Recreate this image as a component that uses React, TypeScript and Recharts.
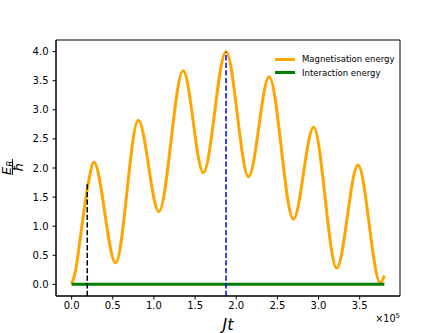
import { ComposedChart, Line, XAxis, YAxis, ReferenceLine, ReferenceArea } from "recharts"

// Jt in units of 10^5
const jt = [0, 0.05, 0.11, 0.2, 0.27, 0.535, 0.81, 1.06, 1.355, 1.6, 1.876, 2.15, 2.4, 2.695, 2.94, 3.22, 3.48, 3.75, 3.8]
const magnetisation = [0, 0.25, 0.85, 1.72, 2.1, 0.37, 2.82, 1.25, 3.67, 1.92, 4.0, 1.85, 3.57, 1.12, 2.7, 0.28, 2.05, 0.03, 0.15]
const interaction = [0, 0, 0, 0, 0, 0, 0, 0, 0, 0, 0, 0, 0, 0, 0, 0, 0, 0, 0]

const xTicks = [0, 0.5, 1, 1.5, 2, 2.5, 3, 3.5]
const yTicks = [0, 0.5, 1, 1.5, 2, 2.5, 3, 3.5, 4]

// dashed markers: [x, top]
const blackMark = [0.19, 1.72]
const blueMark = [1.876, 4.0]

const legendItems = [
  { label: "Magnetisation energy", color: "#ffa500" },
  { label: "Interaction energy", color: "#008000" },
]

const font = "DejaVu Sans, sans-serif"

const data = jt.map((x, i) => ({ x, mag: magnetisation[i], inter: interaction[i] }))

function LegendBox() {
  return (
    <div style={{ position: "absolute", left: 275, top: 53, fontFamily: font, fontSize: 8.5, color: "#000", lineHeight: 1 }}>
      {legendItems.map((it) => (
        <div key={it.label} style={{ display: "flex", alignItems: "center", height: 13.3 }}>
          <span style={{ display: "inline-block", width: 20, height: 3, background: it.color, marginRight: 7 }} />
          <span>{it.label}</span>
        </div>
      ))}
    </div>
  )
}

export default function App() {
  return (
    <div style={{ position: "absolute", left: 0, top: 0, width: 444, height: 333, background: "#fff" }}>
      <ComposedChart width={444} height={333} data={data} margin={{ top: 40, right: 44, left: 0, bottom: 7 }}>
        <XAxis
          dataKey="x"
          type="number"
          domain={[-0.19, 3.99]}
          ticks={xTicks}
          tickFormatter={(v) => v.toFixed(1)}
          height={30}
          tickSize={3.5}
          tickMargin={2}
          stroke="#000"
          tick={{ fill: "#000", fontSize: 10, fontFamily: font }}
          allowDataOverflow
        />
        <YAxis
          type="number"
          domain={[-0.2, 4.2]}
          ticks={yTicks}
          tickFormatter={(v) => v.toFixed(1)}
          width={56}
          tickSize={3.5}
          tickMargin={4}
          stroke="#000"
          tick={{ fill: "#000", fontSize: 10, fontFamily: font }}
          allowDataOverflow
        />
        <ReferenceArea x1={-0.19} x2={3.99} y1={-0.2} y2={4.2} fill="none" stroke="#000" strokeWidth={1} ifOverflow="visible" />
        <Line dataKey="mag" type="monotone" stroke="#ffa500" strokeWidth={3} dot={false} isAnimationActive={false} />
        <Line dataKey="inter" type="linear" stroke="#008000" strokeWidth={3} dot={false} isAnimationActive={false} />
        <ReferenceLine
          segment={[{ x: blackMark[0], y: -0.2 }, { x: blackMark[0], y: blackMark[1] }]}
          stroke="#000"
          strokeWidth={1.5}
          strokeDasharray="5.3 2.3"
        />
        <ReferenceLine
          segment={[{ x: blueMark[0], y: -0.2 }, { x: blueMark[0], y: blueMark[1] }]}
          stroke="#0000ff"
          strokeWidth={1.5}
          strokeDasharray="5.3 2.3"
        />
      </ComposedChart>
      <LegendBox />
      <svg width={444} height={333} style={{ position: "absolute", left: 0, top: 0, pointerEvents: "none" }}>
        <text x={228} y={330} textAnchor="middle" fontFamily={font} fontStyle="italic" fontSize={16} fill="#000">
          Jt
        </text>
        <text x={400} y={322} textAnchor="end" fontFamily={font} fontSize={9.6} fill="#000">
          ×10<tspan dy={-4} fontSize={7}>5</tspan>
        </text>
        <g transform="translate(12.5,167) rotate(-90)">
          <text x={-1} y={-2} textAnchor="middle" fontFamily={font} fontStyle="italic" fontSize={13} fill="#000">
            E<tspan dy={2.5} fontSize={8.5}>B</tspan>
          </text>
          <line x1={-8} x2={8} y1={0} y2={0} stroke="#000" strokeWidth={0.9} />
          <text x={0} y={10.5} textAnchor="middle" fontFamily={font} fontStyle="italic" fontSize={13} fill="#000">
            ħ
          </text>
        </g>
      </svg>
    </div>
  )
}
